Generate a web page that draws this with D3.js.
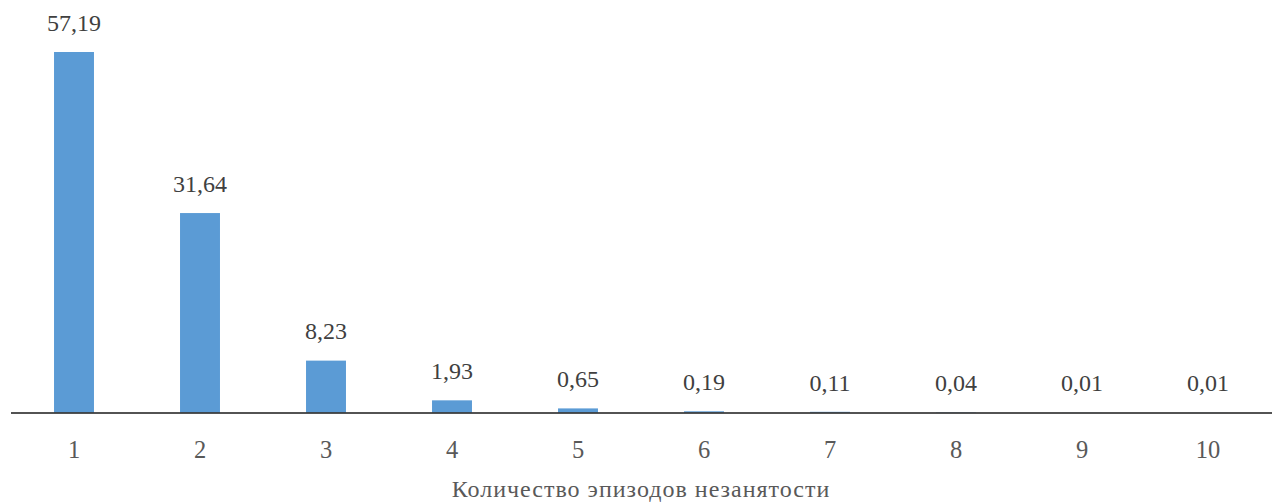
<!DOCTYPE html>
<html><head><meta charset="utf-8">
<script src="https://cdn.jsdelivr.net/npm/d3@7"></script>
<style>body{margin:0;background:#fff} text{font-family:"Liberation Serif","DejaVu Serif",serif !important}</style>
</head><body><svg id="c" width="1277" height="504"></svg>
<script>
const categories = ["1","2","3","4","5","6","7","8","9","10"];
const values = [57.19,31.64,8.23,1.93,0.65,0.19,0.11,0.04,0.01,0.01];
const axisTitle = "Количество эпизодов незанятости";

const svg = d3.select("#c");
const x = d3.scaleBand().domain(categories).range([11, 1271]).paddingInner(0.683).paddingOuter(0.3415);
const y = d3.scaleLinear().domain([0, 57.19]).range([412.5, 52]);

svg.selectAll("rect.bar").data(values).enter().append("rect")
  .attr("x", (d,i)=>x(categories[i]))
  .attr("width", x.bandwidth())
  .attr("y", d=>y(d))
  .attr("height", d=>y(0)-y(d))
  .attr("fill", "#5B9BD5");

svg.selectAll("text.lbl").data(values).enter().append("text")
  .attr("x", (d,i)=>x(categories[i])+x.bandwidth()/2)
  .attr("y", d=>y(d)-21.3)
  .attr("text-anchor","middle")
  .attr("font-size", 24).attr("fill","#404040")
  .text(d=>d.toFixed(2).replace(".", ","));

const ax = d3.axisBottom(x).tickSize(0).tickPadding(0);
const g = svg.append("g").attr("transform","translate(0,413)").call(ax);
g.select(".domain").attr("stroke","#1a1a1a").attr("stroke-width",1.5).attr("d","M11,0H1272");
g.selectAll(".tick text").attr("font-size", 24.5).attr("fill","#595959").attr("dy",null).attr("y",45);

svg.append("text").attr("x", 641).attr("y", 497).attr("text-anchor","middle")
  .attr("font-size", 24).attr("letter-spacing", 1).attr("fill","#595959").text(axisTitle);
</script></body></html>
